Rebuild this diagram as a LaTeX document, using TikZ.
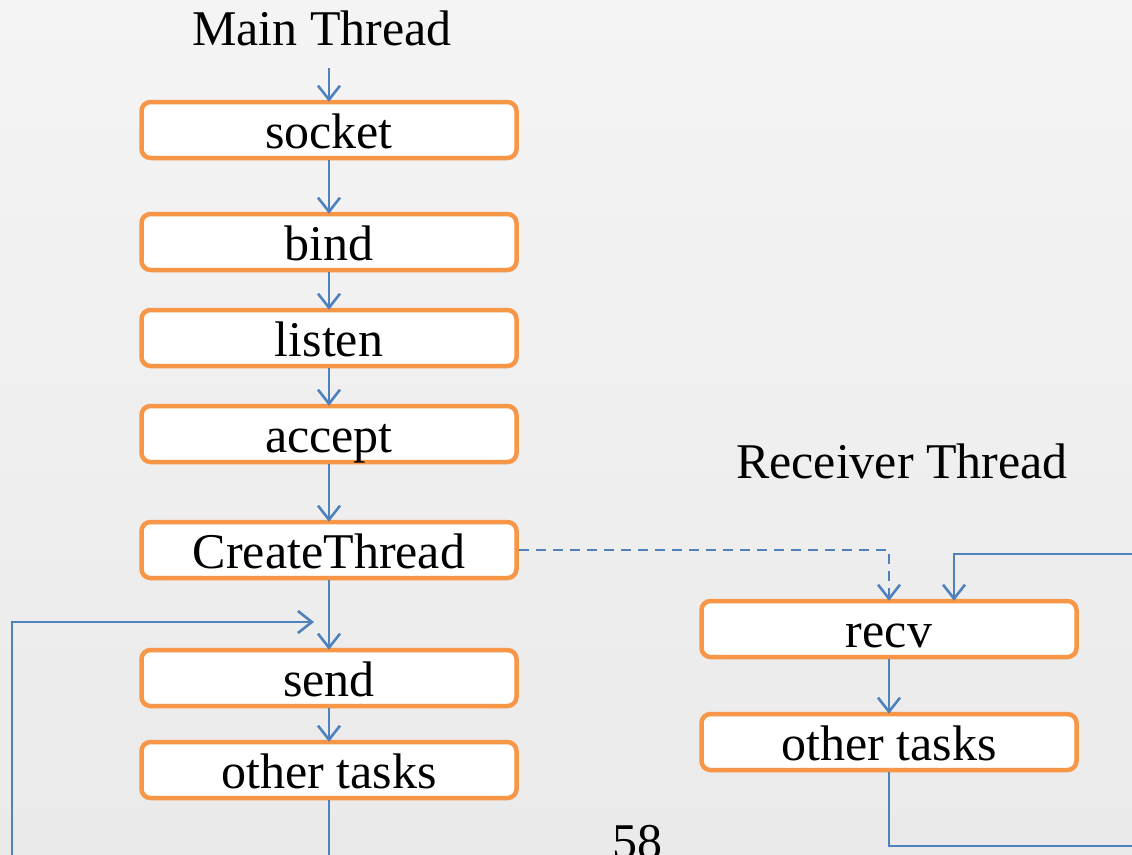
\documentclass[tikz,border=0pt]{standalone}
\usepackage{fontspec}
\setmainfont{Liberation Serif}
\usetikzlibrary{arrows.meta}
\definecolor{boxorange}{HTML}{F79646}
\definecolor{arrowblue}{HTML}{4F81BD}
\definecolor{bgtop}{HTML}{F4F4F4}
\definecolor{bgbot}{HTML}{EAEAEA}
\tikzset{
  stepbox/.style={draw=boxorange, line width=4.5pt, fill=white, rounded corners=9pt,
    minimum width=375pt, minimum height=56pt, inner sep=0pt,
    text height=37pt, text depth=0pt, font=\fontsize{50}{60}\selectfont},
  lbl/.style={font=\fontsize{50}{60}\selectfont, inner sep=0pt},
  arr/.style={draw=arrowblue, line width=2.6pt,
    -{Straight Barb[length=14pt,width=22pt,line width=2.6pt]}},
}
\begin{document}
\begin{tikzpicture}[x=1pt,y=-1pt]
\useasboundingbox (0,0) rectangle (1132,854);
\shade[top color=bgtop, bottom color=bgbot] (0,0) rectangle (1132,854);
\clip (0,0) rectangle (1132,854);

% titles
\node[lbl, anchor=base] (mt) at (322,45) {Main Thread};
\node[lbl, anchor=base] (rt) at (902,478) {Receiver Thread};
\node[lbl, anchor=base] (pg) at (637,858) {58};

% main thread boxes
\node[stepbox] (socket) at (329,130) {socket};
\node[stepbox] (bind)   at (329,242) {bind};
\node[stepbox] (listen) at (329,338) {listen};
\node[stepbox] (accept) at (329,434) {accept};
\node[stepbox] (ct)     at (329,550) {CreateThread};
\node[stepbox] (send)   at (329,678) {send};
\node[stepbox] (ot1)    at (329,770) {other tasks};

% receiver thread boxes
\node[stepbox] (recv) at (889,629) {recv};
\node[stepbox] (ot2)  at (889,742) {other tasks};

% coordinates
\coordinate (mtstart) at (329,68);
\coordinate (lb) at (12,880);
\coordinate (sendin) at (314,622);
\coordinate (rb) at (1160,846);
\coordinate (rtop) at (954,554);

% main flow
\draw[arr] (mtstart) -- ([yshift=-2pt]socket.north);
\draw[arr] (socket) -- ([yshift=-2pt]bind.north);
\draw[arr] (bind) -- ([yshift=-2pt]listen.north);
\draw[arr] (listen) -- ([yshift=-2pt]accept.north);
\draw[arr] (accept) -- ([yshift=-2pt]ct.north);
\draw[arr] (ct) -- ([yshift=-2pt]send.north);
\draw[arr] (send) -- ([yshift=-2pt]ot1.north);

% main loop
\draw[arr] (ot1.south) |- (lb) |- (sendin);

% dashed create
\draw[arr, dash pattern=on 10pt off 7pt] (ct.east) -| ([yshift=-2pt]recv.north);

% receiver flow
\draw[arr] (recv) -- ([yshift=-2pt]ot2.north);
\draw[arr] (ot2.south) |- (rb) |- (rtop) -- ([yshift=-2pt]rtop |- recv.north);
\end{tikzpicture}
\end{document}
